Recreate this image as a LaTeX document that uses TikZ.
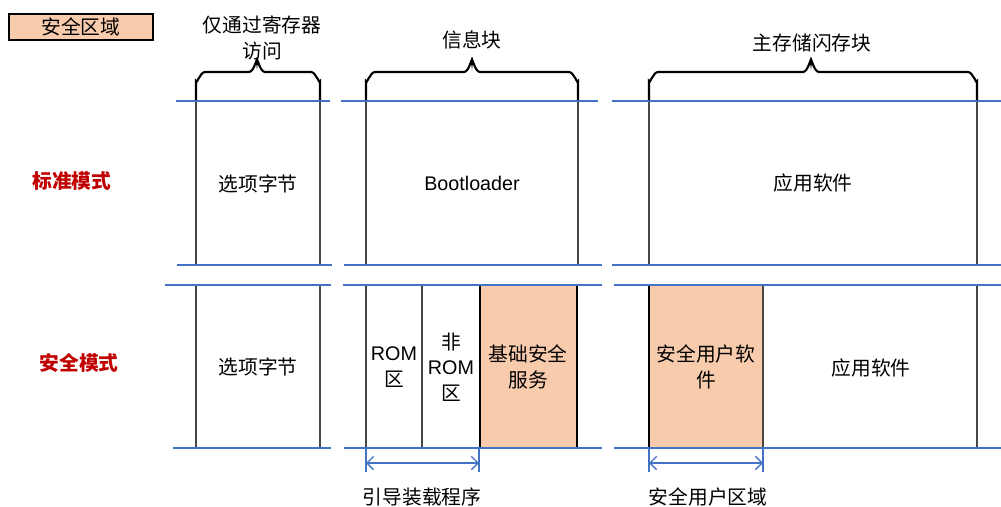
\documentclass[tikz,border=0pt]{standalone}
\usepackage{fontspec}
\setmainfont{Noto Sans CJK SC}
\newfontfamily\latinfont{Liberation Sans}
\usetikzlibrary{arrows.meta}

\definecolor{secfill}{RGB}{248,203,173}
\definecolor{rowblue}{RGB}{68,114,196}
\definecolor{modered}{RGB}{192,0,0}

\tikzset{
  rowline/.style={draw=rowblue, line width=1.1pt},
  cellbox/.style={draw=black!72, line width=0.9pt},
  securebox/.style={draw=black, line width=0.9pt, fill=secfill},
  bracepath/.style={draw=black, line width=1.6pt},
  celltext/.style={inner sep=0.75pt, align=center, font=\fontsize{14.8}{19}\selectfont},
  modetext/.style={inner sep=0.75pt, text=modered, font=\fontsize{14.8}{19}\selectfont\bfseries},
  dimarrow/.style={draw=rowblue, line width=1pt, {Straight Barb[length=5pt,width=10pt]}-{Straight Barb[length=5pt,width=10pt]}},
}

\begin{document}
\begin{tikzpicture}[x=0.75pt,y=0.75pt,yscale=-1]
\useasboundingbox (0,0) rectangle (1001,507);

%Legend
\draw [securebox] (9,14) rectangle (153,40);
\node [celltext] (legend) at (81,27) {安全区域};

%Mode labels
\node [modetext] (stdmode) at (72,181) {标准模式};
\node [modetext] (secmode) at (79,363) {安全模式};

%Boxes, standard mode
\draw [cellbox] (196,101) rectangle (320,265);
\draw [cellbox] (366,101) rectangle (578,265);
\draw [cellbox] (649,101) rectangle (977,265);

%Boxes, secure mode
\draw [cellbox] (196,285) rectangle (320,448);
\draw [cellbox] (366,285) rectangle (422,448);
\draw [cellbox] (422,285) rectangle (480,448);
\draw [securebox] (480,285) rectangle (577,448);
\draw [securebox] (649,285) rectangle (763,448);
\draw [cellbox] (763,285) rectangle (977,448);

%Blue row lines
\draw [rowline] (176,101) -- (330,101);
\draw [rowline] (341,101) -- (598,101);
\draw [rowline] (612,101) -- (1001,101);
\draw [rowline] (177,265) -- (332,265);
\draw [rowline] (344,265) -- (602,265);
\draw [rowline] (612,265) -- (1001,265);
\draw [rowline] (165,285) -- (331,285);
\draw [rowline] (343,285) -- (602,285);
\draw [rowline] (614,285) -- (1001,285);
\draw [rowline] (173,448) -- (331,448);
\draw [rowline] (344,448) -- (602,448);
\draw [rowline] (614,448) -- (1001,448);

%Braces
\draw [bracepath] (196,100) -- (196,81) to[out=90,in=180] (205,72) -- (249,72) to[out=0,in=-90] (257,61) to[out=-90,in=180] (265,72) -- (311,72) to[out=0,in=90] (320,81) -- (320,100);
\draw [bracepath] (366,100) -- (366,81) to[out=90,in=180] (375,72) -- (464,72) to[out=0,in=-90] (472,61) to[out=-90,in=180] (480,72) -- (569,72) to[out=0,in=90] (578,81) -- (578,100);
\draw [bracepath] (649,100) -- (649,81) to[out=90,in=180] (658,72) -- (803,72) to[out=0,in=-90] (811,61) to[out=-90,in=180] (819,72) -- (968,72) to[out=0,in=90] (977,81) -- (977,100);

%Brace labels
\node [celltext] (regonly) at (262,38) {仅通过寄存器\\访问};
\node [celltext] (infoblk) at (472,40) {信息块};
\node [celltext] (mainflash) at (812,43) {主存储闪存块};

%Text in boxes
\node [celltext] (optstd) at (258,184) {选项字节};
\node [celltext] (bootstd) at (472,183) {\latinfont Bootloader};
\node [celltext] (appstd) at (813,183) {应用软件};
\node [celltext] (optsec) at (258,367) {选项字节};
\node [celltext] (romsec) at (394,367) {{\latinfont ROM}\\区};
\node [celltext] (nromsec) at (451,367) {非\\{\latinfont ROM}\\区};
\node [celltext] (basesec) at (528,367) {基础安全\\服务};
\node [celltext] (usersec) at (706,367) {安全用户软\\件};
\node [celltext] (appsec) at (871,368) {应用软件};

%Extent arrows
\coordinate (bootL) at (366,463);
\coordinate (bootR) at (479,463);
\coordinate (userL) at (649,463);
\coordinate (userR) at (763,463);
\draw [rowline] (366,448) -- (366,472);
\draw [rowline] (479,448) -- (479,472);
\draw [rowline] (649,448) -- (649,472);
\draw [rowline] (763,448) -- (763,472);
\draw [dimarrow] (bootL) -- (bootR);
\draw [dimarrow] (userL) -- (userR);
\node [celltext] (bootlbl) at (422,497) {引导装载程序};
\node [celltext] (userlbl) at (708,497) {安全用户区域};
\end{tikzpicture}
\end{document}
